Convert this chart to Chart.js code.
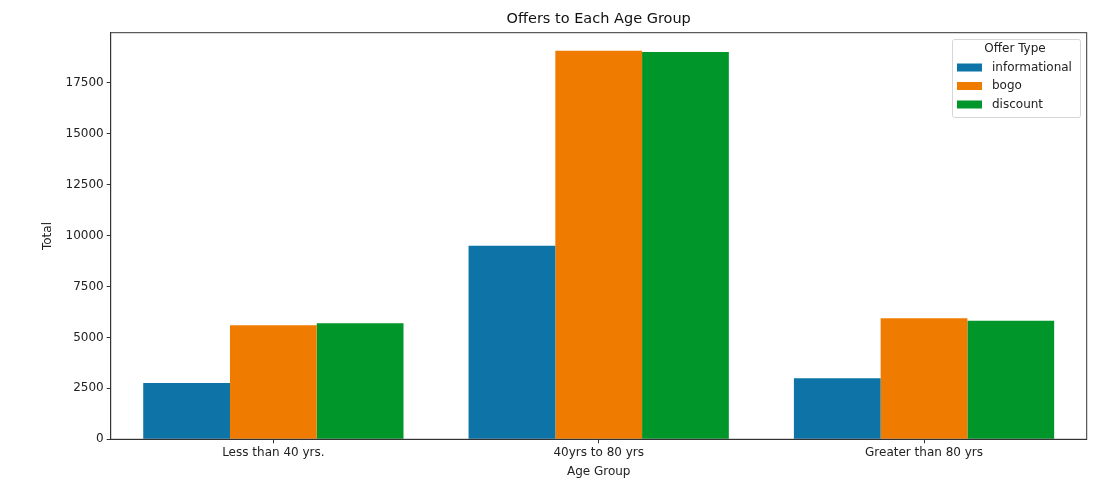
<!DOCTYPE html>
<html>
<head>
<meta charset="utf-8">
<script src="https://cdn.jsdelivr.net/npm/chart.js@4/dist/chart.umd.min.js"></script>
<style>
  html, body { margin: 0; padding: 0; background: #fff; }
  canvas { display: block; }
</style>
</head>
<body>
<canvas id="chart" width="1104" height="485"></canvas>
<script>
const categories = ["Less than 40 yrs.", "40yrs to 80 yrs", "Greater than 80 yrs"];
const offerTypes = ["informational", "bogo", "discount"];
const informational = [2760, 9500, 3000];
const bogo = [5590, 19070, 5940];
const discount = [5690, 19000, 5820];
const yTicks = [0, 2500, 5000, 7500, 10000, 12500, 15000, 17500];

const colors = ["#0e74a7", "#ef7c00", "#00962a"];
const FONT = "'DejaVu Sans', sans-serif";

// matplotlib style box around the axes plus the "Offer Type" legend
const frameAndLegend = {
  id: "frameAndLegend",
  afterDraw(chart) {
    const { ctx, chartArea: a } = chart;
    ctx.save();
    ctx.strokeStyle = "#333";
    ctx.lineWidth = 1;
    ctx.strokeRect(a.left, a.top, a.right - a.left, a.bottom - a.top);

    // legend box
    const lx = 952, ly = 39, lw = 128, lh = 78;
    ctx.fillStyle = "rgba(255,255,255,0.8)";
    ctx.strokeStyle = "#d6d6d6";
    ctx.beginPath();
    ctx.roundRect(lx + 0.5, ly + 0.5, lw, lh, 2);
    ctx.fill();
    ctx.stroke();

    ctx.fillStyle = "#222";
    ctx.font = "12px " + FONT;
    ctx.textBaseline = "middle";
    ctx.textAlign = "center";
    ctx.fillText("Offer Type", lx + lw / 2 - 1, ly + 9.5);
    ctx.textAlign = "left";
    chart.data.datasets.forEach((ds, i) => {
      const rowY = ly + 28.5 + i * 18.5;
      ctx.fillStyle = ds.backgroundColor;
      ctx.fillRect(lx + 5, rowY - 4, 25, 8);
      ctx.fillStyle = "#222";
      ctx.fillText(ds.label, lx + 40, rowY);
    });
    ctx.restore();
  },
};

const seriesValues = [informational, bogo, discount];

new Chart(document.getElementById("chart"), {
  type: "bar",
  data: {
    labels: categories,
    datasets: offerTypes.map((name, i) => ({
      label: name,
      data: seriesValues[i],
      backgroundColor: colors[i],
      borderWidth: 0,
      barPercentage: 1,
      categoryPercentage: 0.8,
    })),
  },
  plugins: [frameAndLegend],
  options: {
    responsive: false,
    animation: false,
    devicePixelRatio: 1,
    layout: {
      padding: { left: 37, right: 17.3, top: 0, bottom: 0 },
    },
    plugins: {
      legend: { display: false },
      tooltip: { enabled: false },
      title: {
        display: true,
        text: "Offers to Each Age Group",
        fullSize: false,
        color: "#111",
        font: { family: FONT, size: 14.5, weight: "normal" },
        padding: { top: 11, bottom: 4.3 },
      },
    },
    scales: {
      x: {
        offset: true,
        grid: {
          offset: false,
          drawOnChartArea: false,
          tickLength: 4,
          color: "#333",
        },
        border: { color: "#333" },
        ticks: {
          color: "#222",
          padding: 2,
          maxRotation: 0,
          font: { family: FONT, size: 12 },
        },
        title: {
          display: true,
          text: "Age Group",
          color: "#222",
          font: { family: FONT, size: 12 },
          padding: { top: 0, bottom: 5.5 },
        },
        afterFit(scale) {
          scale.height = 45.7;
        },
      },
      y: {
        min: 0,
        max: 19950,
        grid: {
          drawOnChartArea: false,
          tickLength: 4,
          color: "#333",
        },
        border: { color: "#333" },
        ticks: {
          color: "#222",
          padding: 3,
          includeBounds: false,
          font: { family: FONT, size: 12 },
          callback: (v) => String(v),
        },
        afterBuildTicks(scale) {
          scale.ticks = yTicks.map((v) => ({ value: v }));
        },
        title: {
          display: true,
          text: "Total",
          color: "#222",
          font: { family: FONT, size: 12 },
          padding: { top: 4, bottom: 4 },
        },
        afterFit(scale) {
          scale.width = 73.7;
        },
      },
    },
  },
});
</script>
</body>
</html>
